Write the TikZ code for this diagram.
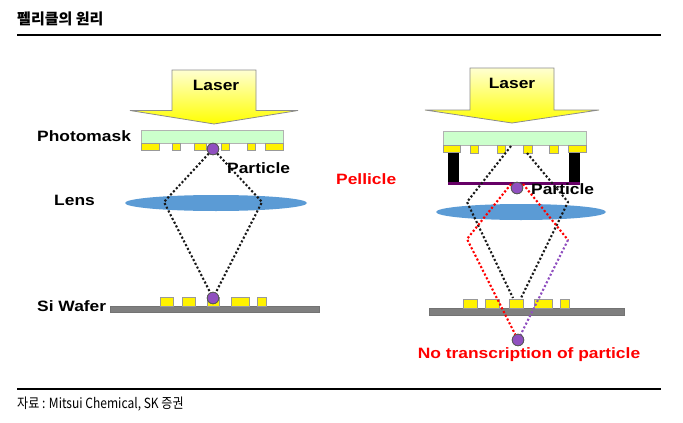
\documentclass[tikz,border=0pt]{standalone}
\usepackage{fontspec}
\setmainfont{Liberation Sans}
\newfontfamily\labfont[FakeStretch=1.16]{Liberation Sans}
\newfontfamily\krfont{Noto Sans CJK KR}
\newfontfamily\krnarrow[FakeStretch=0.86]{Noto Sans CJK KR}
\usetikzlibrary{arrows.meta,positioning,fit,calc,backgrounds,shapes.geometric}
\definecolor{lensblue}{HTML}{5B9BD5}
\definecolor{maskgreen}{HTML}{CCFFCC}
\definecolor{partviolet}{HTML}{9050C0}
\definecolor{wafergrey}{HTML}{7F7F7F}

\begin{document}
\begin{tikzpicture}[
    x=1pt, y=-1pt,
    laserarr/.style={draw=black!45, line width=0.8pt, top color=yellow!18, bottom color=yellow, shading angle=0},
    mask/.style={draw=black!30, line width=0.8pt, fill=maskgreen},
    bump/.style={draw=black!40, line width=0.7pt, fill=yellow},
    wafer/.style={draw=black!55, line width=0.7pt, fill=wafergrey},
    lens/.style={ellipse, inner sep=0pt, fill=lensblue},
    pillar/.style={fill=black},
    part/.style={circle, draw=black!65, line width=0.8pt, fill=partviolet, minimum size=11.5pt, inner sep=0pt},
    lab/.style={font=\labfont\bfseries\fontsize{15}{17}\selectfont, inner sep=0pt},
    redlab/.style={lab, text=red},
    ray/.style={line width=2.1pt, dash pattern=on 2.1pt off 2.1pt, black!90},
    redray/.style={ray, red},
    violetray/.style={ray, partviolet}
]
    \useasboundingbox (0,0) rectangle (683,423);

    % header and footer
    \node[anchor=west, inner sep=0pt, font=\krfont\bfseries\fontsize{15}{17}\selectfont] (title) at (17,18.5) {펠리클의 원리};
    \coordinate (topa) at (17,35);
    \coordinate (topb) at (661,35);
    \coordinate (bota) at (17,389);
    \coordinate (botb) at (661,389);
    \draw[line width=2pt] (topa) -- (topb);
    \draw[line width=2pt] (bota) -- (botb);
    \node[anchor=west, inner sep=0pt, font=\krnarrow\fontsize{14}{16}\selectfont] (source) at (17,404) {자료 : Mitsui Chemical, SK 증권};

    % left side
    \draw[laserarr] (172,70) -- (256,70) -- (256,110.5) -- (298,110.5) -- (214,124) -- (130,110.5) -- (172,110.5) -- cycle;
    \draw[mask] (141,130) rectangle (283,143);
    \foreach \xa/\xb in {141/159,172/180,194/206,221/229,247/255,265/283}
        \draw[bump] (\xa,143) rectangle (\xb,150);
    \node[lens, minimum width=182pt, minimum height=16pt] (lensl) at (216,203) {};
    \draw[wafer] (110,306) rectangle (319,312);
    \foreach \xa/\xb in {160/173,182/195,207/219,231/249,257/266}
        \draw[bump] (\xa,297.5) rectangle (\xb,306);

    \node[part] (partl) at (213,149) {};
    \node[part] (waferl) at (213,298) {};
    \coordinate (bendla) at (164,202);
    \coordinate (bendlb) at (262,202);
    \draw[ray] (partl) -- (bendla) -- (waferl);
    \draw[ray] (partl) -- (bendlb) -- (waferl);
    \node[part] at (partl) {};
    \node[part] at (waferl) {};

    \node[lab] (laserl) at (216,85) {Laser};
    \node[lab, anchor=west] (photomask) at (37,136) {Photomask};
    \node[lab, anchor=west] (partlabl) at (227,168) {Particle};
    \node[lab, anchor=west] (lenslab) at (54,200) {Lens};
    \node[lab, anchor=west] (wafertxt) at (37,306) {Si Wafer};
    \node[redlab, anchor=west] (pellicle) at (336,179) {Pellicle};

    % right side
    \draw[laserarr] (470,68) -- (554,68) -- (554,110) -- (599,110) -- (512,123) -- (425,110) -- (470,110) -- cycle;
    \draw[mask] (443,131) rectangle (586,145);
    \fill[pillar] (448,152) rectangle (459,182);
    \fill[pillar] (569,152) rectangle (580,182);
    \foreach \xa/\xb/\yb in {443/460/152,470/478/153,497/505/153,523/532/153,549/558/153,568/586/152}
        \draw[bump] (\xa,145) rectangle (\xb,\yb);
    \fill[violet!80!black] (448,181.5) rectangle (580,184.5);
    \node[lens, minimum width=170pt, minimum height=16pt] (lensr) at (521,212) {};
    \draw[wafer] (429,308) rectangle (624,315);
    \foreach \xa/\xb in {463/477,485/499,509/523,534/552,560/569}
        \draw[bump] (\xa,299) rectangle (\xb,308);

    \node[part] (partr) at (517,188) {};
    \node[part] (imgr) at (518,340) {};
    \coordinate (blka) at (511,146);
    \coordinate (blkb) at (467,202);
    \coordinate (blkc) at (513,298);
    \coordinate (blkd) at (527,153);
    \coordinate (blke) at (568,202);
    \coordinate (blkf) at (521,298);
    \coordinate (reda) at (511,184);
    \coordinate (redb) at (467,239);
    \coordinate (redc) at (523,184);
    \coordinate (redd) at (568,240);
    \draw[ray] (blka) -- (blkb) -- (blkc);
    \draw[ray] (blkd) -- (blke) -- (blkf);
    \draw[redray] (reda) -- (redb) -- (imgr);
    \draw[redray] (redc) -- (redd);
    \draw[violetray] (redd) -- (imgr);
    \node[part] at (partr) {};
    \node[part] at (imgr) {};

    \node[lab] (laserr) at (512,83) {Laser};
    \node[lab, anchor=west] (partlabr) at (531,189) {Particle};
    \node[redlab] (notrans) at (529,354.5) {No transcription of particle};
\end{tikzpicture}
\end{document}
